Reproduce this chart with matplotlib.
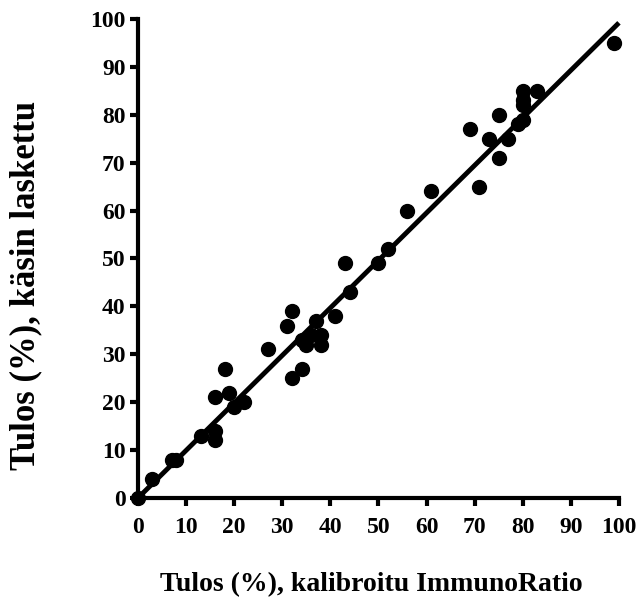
import matplotlib.pyplot as plt

plt.rcParams.update({'font.family': 'Liberation Serif', 'font.weight': 'bold'})

# ImmunoRatio (calibrated) vs. manual count, %
x_vals = [0, 3, 7, 8, 13, 16, 16, 16, 18, 19, 20, 22, 27, 31, 32, 32, 34, 34, 35, 36,
          37, 38, 38, 41, 43, 44, 50, 52, 56, 61, 69, 71, 73, 75, 75, 77, 79, 80, 80,
          80, 80, 83, 99]
y_vals = [0, 4, 8, 8, 13, 14, 12, 21, 27, 22, 19, 20, 31, 36, 39, 25, 27, 33, 32, 34,
          37, 34, 32, 38, 49, 43, 49, 52, 60, 64, 77, 65, 75, 80, 71, 75, 78, 79, 83,
          85, 82, 85, 95]

# regression line
fit_x = [0, 100]
fit_y = [0, 99.2]

ticks = list(range(0, 101, 10))

fig = plt.figure(figsize=(6.43, 6.08), dpi=100)
ax = fig.add_axes([0.2146, 0.181, 0.748, 0.7878])

ax.plot(fit_x, fit_y, color='black', linewidth=3.5, solid_capstyle='butt', clip_on=False)
ax.plot(x_vals, y_vals, 'o', color='black', markersize=10, clip_on=False, zorder=3)

ax.set_xlim(0, 100)
ax.set_ylim(0, 100)
ax.set_xticks(ticks)
ax.set_yticks(ticks)
for s in ['top', 'right']:
    ax.spines[s].set_visible(False)
for s in ['left', 'bottom']:
    ax.spines[s].set_linewidth(3)
ax.tick_params(direction='out', width=3, length=6, labelsize=17)
ax.tick_params(axis='x', pad=7.5)
ax.tick_params(axis='y', pad=3)
for lbl in ax.get_xticklabels() + ax.get_yticklabels():
    lbl.set_fontweight('bold')

fig.text(0.577, 0.038, 'Tulos (%), kalibroitu ImmunoRatio', ha='center', va='center',
         fontsize=20, fontweight='bold')
fig.text(0.04, 0.53, 'Tulos (%), käsin laskettu', ha='center', va='center',
         rotation=90, fontsize=25, fontweight='bold')

plt.savefig('out.png', dpi=100)
